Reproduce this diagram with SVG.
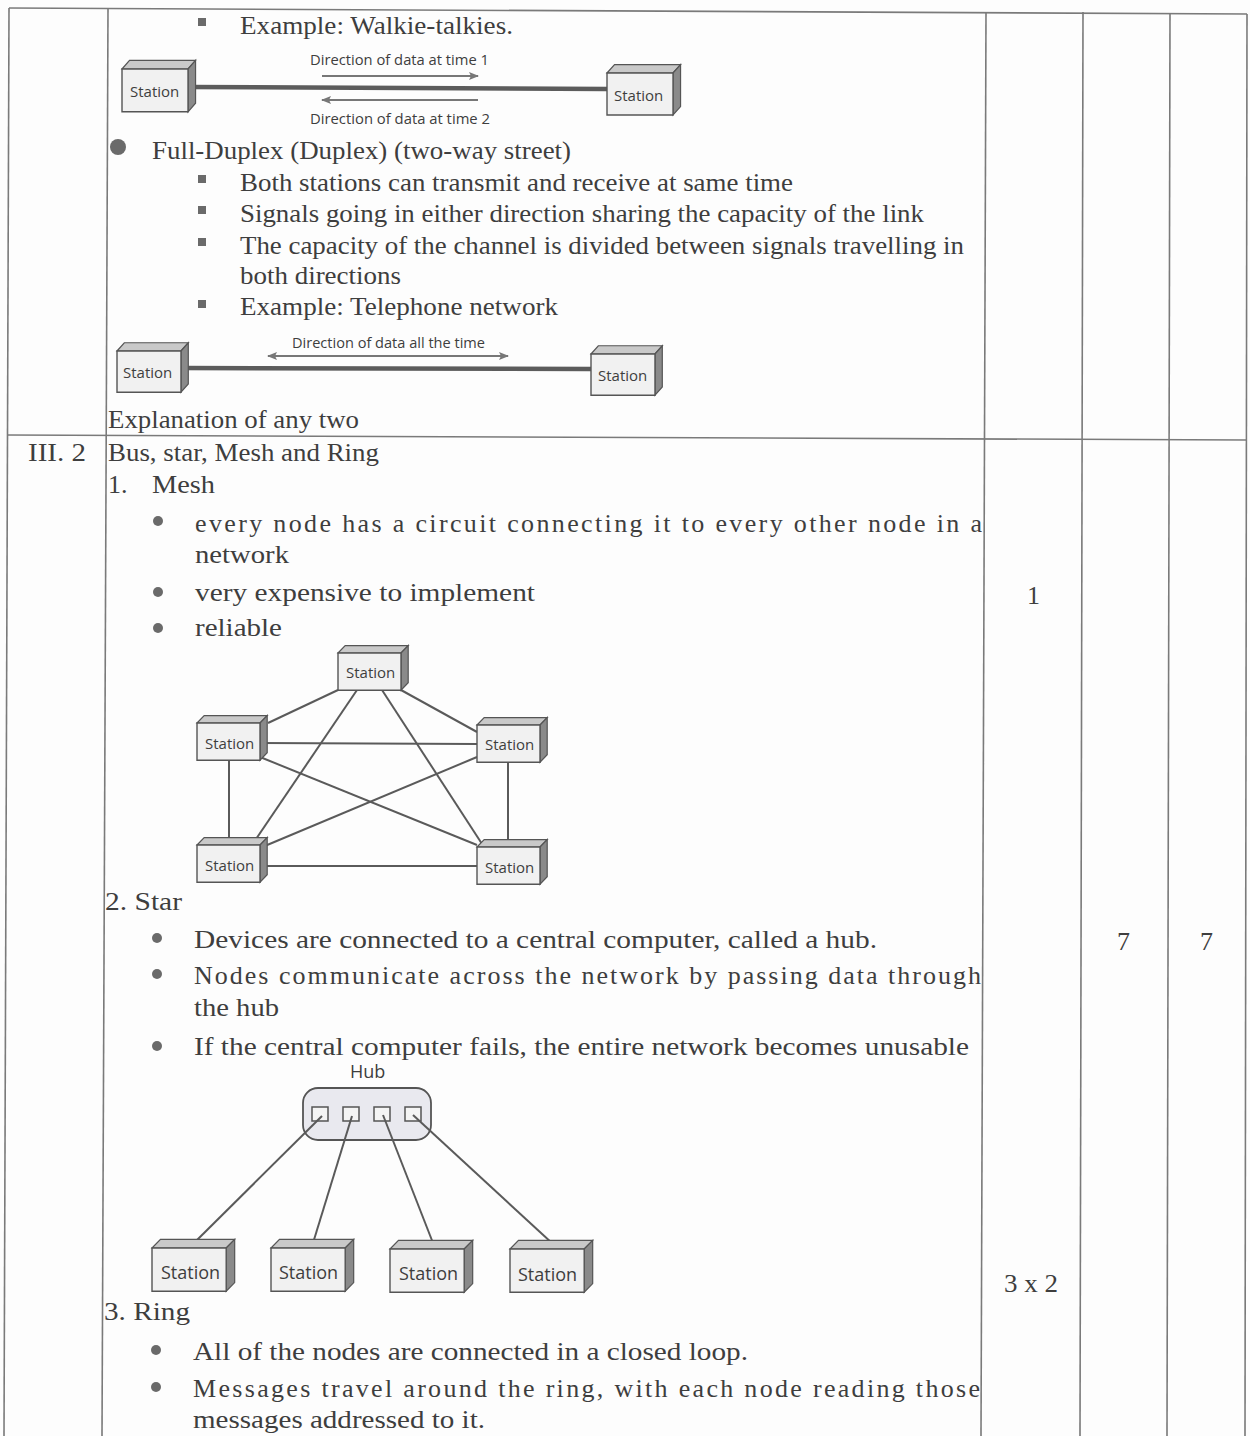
<svg xmlns="http://www.w3.org/2000/svg" xmlns:xlink="http://www.w3.org/1999/xlink" width="1250" height="1436" viewBox="0 0 1250 1436">
<style>
.t{font-family:"Liberation Serif","Times New Roman",serif;font-size:26px;fill:#3e3e3e}
.s{font-family:"Open Sans","Noto Sans","Liberation Sans",sans-serif;font-size:15px;fill:#3e3e3e}
.sl{font-family:"Open Sans","Noto Sans","Liberation Sans",sans-serif;font-size:18px;fill:#3e3e3e}
.grid{stroke:#7a7a7a;stroke-width:1.6;fill:none}
.link{stroke:#5a5a5a;stroke-width:2;fill:none}
.thick{stroke:#5c5c5c;stroke-width:4.5;fill:none}
.arr{stroke:#777;stroke-width:2;fill:none}
.sq{fill:#6a6a6a}
.dot{fill:#6a6a6a}
</style>
<defs>
<g id="box">
<polygon points="0,0 8,-8 78,-8 70,0" fill="#c9c9c9" stroke="#555" stroke-width="1.2" vector-effect="non-scaling-stroke"/>
<polygon points="70,0 78,-8 78,32 70,40" fill="#8a8a8a" stroke="#555" stroke-width="1.2" vector-effect="non-scaling-stroke"/>
<rect x="0" y="0" width="70" height="40" fill="#f1f1f1" stroke="#555" stroke-width="1.4" vector-effect="non-scaling-stroke"/>
</g>
<marker id="ah" markerWidth="10" markerHeight="8" refX="9" refY="4" orient="auto-start-reverse" markerUnits="userSpaceOnUse">
<path d="M0,0 L10,4 L0,8 L2,4 Z" fill="#777"/>
</marker>
</defs>
<rect x="0" y="0" width="1250" height="1436" fill="#fdfdfd"/>

<g id="table">
<line class="grid" x1="9" y1="8" x2="1247" y2="14"/>
<line class="grid" x1="9" y1="8" x2="4" y2="1436"/>
<line class="grid" x1="108" y1="9" x2="102" y2="1436"/>
<line class="grid" x1="986" y1="12" x2="981" y2="1436"/>
<line class="grid" x1="1083" y1="12" x2="1080" y2="1436"/>
<line class="grid" x1="1170" y1="13" x2="1167" y2="1436"/>
<line class="grid" x1="1247" y1="14" x2="1245" y2="1436"/>
<line class="grid" x1="7" y1="435" x2="1246" y2="440"/>
</g>

<g id="text-top">
<rect class="sq" x="198" y="18" width="8" height="8"/>
<text class="t" x="240" y="34" textLength="273" lengthAdjust="spacingAndGlyphs">Example: Walkie-talkies.</text>
<circle class="dot" cx="118" cy="147" r="8"/>
<text class="t" x="152" y="159" textLength="419" lengthAdjust="spacingAndGlyphs">Full-Duplex (Duplex) (two-way street)</text>
<rect class="sq" x="198" y="175" width="8" height="8"/>
<text class="t" x="240" y="191" textLength="553" lengthAdjust="spacingAndGlyphs">Both stations can transmit and receive at same time</text>
<rect class="sq" x="198" y="206" width="8" height="8"/>
<text class="t" x="240" y="222" textLength="684" lengthAdjust="spacingAndGlyphs">Signals going in either direction sharing the capacity of the link</text>
<rect class="sq" x="198" y="238" width="8" height="8"/>
<text class="t" x="240" y="254" textLength="724" lengthAdjust="spacingAndGlyphs">The capacity of the channel is divided between signals travelling in</text>
<text class="t" x="240" y="284" textLength="161" lengthAdjust="spacingAndGlyphs">both directions</text>
<rect class="sq" x="198" y="300" width="8" height="8"/>
<text class="t" x="240" y="315" textLength="318" lengthAdjust="spacingAndGlyphs">Example: Telephone network</text>
<text class="t" x="108" y="428" textLength="251" lengthAdjust="spacingAndGlyphs">Explanation of any two</text>
</g>

<g id="text-mesh">
<text class="t" x="28" y="461" textLength="58" lengthAdjust="spacingAndGlyphs">III. 2</text>
<text class="t" x="108" y="461" textLength="271" lengthAdjust="spacingAndGlyphs">Bus, star, Mesh and Ring</text>
<text class="t" x="108" y="493">1.</text>
<text class="t" x="152" y="493" textLength="63" lengthAdjust="spacingAndGlyphs">Mesh</text>
<circle class="dot" cx="158" cy="521" r="5"/>
<text class="t" x="195" y="532" textLength="787" lengthAdjust="spacing">every node has a circuit connecting it to every other node in a</text>
<text class="t" x="195" y="563" textLength="94" lengthAdjust="spacingAndGlyphs">network</text>
<circle class="dot" cx="158" cy="592" r="5"/>
<text class="t" x="195" y="601" textLength="340" lengthAdjust="spacingAndGlyphs">very expensive to implement</text>
<circle class="dot" cx="158" cy="628" r="5"/>
<text class="t" x="195" y="636" textLength="87" lengthAdjust="spacingAndGlyphs">reliable</text>
<text class="t" x="1027" y="604">1</text>
</g>

<g id="text-star">
<text class="t" x="105" y="910" textLength="77" lengthAdjust="spacingAndGlyphs">2. Star</text>
<circle class="dot" cx="157" cy="938" r="5"/>
<text class="t" x="194" y="948" textLength="683" lengthAdjust="spacingAndGlyphs">Devices are connected to a central computer, called a hub.</text>
<circle class="dot" cx="157" cy="974" r="5"/>
<text class="t" x="194" y="984" textLength="787" lengthAdjust="spacing">Nodes communicate across the network by passing data through</text>
<text class="t" x="194" y="1016" textLength="85" lengthAdjust="spacingAndGlyphs">the hub</text>
<circle class="dot" cx="157" cy="1046" r="5"/>
<text class="t" x="194" y="1055" textLength="775" lengthAdjust="spacingAndGlyphs">If the central computer fails, the entire network becomes unusable</text>
<text class="t" x="1117" y="950">7</text>
<text class="t" x="1200" y="950">7</text>
<text class="t" x="1004" y="1292" textLength="54" lengthAdjust="spacingAndGlyphs">3 x 2</text>
</g>

<g id="text-ring">
<text class="t" x="104" y="1320" textLength="86" lengthAdjust="spacingAndGlyphs">3. Ring</text>
<circle class="dot" cx="156" cy="1350" r="5"/>
<text class="t" x="193" y="1360" textLength="555" lengthAdjust="spacingAndGlyphs">All of the nodes are connected in a closed loop.</text>
<circle class="dot" cx="156" cy="1387" r="5"/>
<text class="t" x="193" y="1397" textLength="787" lengthAdjust="spacing">Messages travel around the ring, with each node reading those</text>
<text class="t" x="193" y="1428" textLength="292" lengthAdjust="spacingAndGlyphs">messages addressed to it.</text>
</g>

<g id="hub">
<text class="sl" x="350" y="1078" font-size="17">Hub</text>
<rect x="303" y="1088" width="128" height="52" rx="15" fill="#e9e9ef" stroke="#555" stroke-width="1.8"/>
<rect x="312" y="1107" width="16" height="14" fill="#f4f4f4" stroke="#555" stroke-width="1.5"/>
<rect x="343" y="1107" width="16" height="14" fill="#f4f4f4" stroke="#555" stroke-width="1.5"/>
<rect x="374" y="1107" width="16" height="14" fill="#f4f4f4" stroke="#555" stroke-width="1.5"/>
<rect x="405" y="1107" width="16" height="14" fill="#f4f4f4" stroke="#555" stroke-width="1.5"/>
</g>

<g id="connectors">
<line class="thick" x1="189" y1="87" x2="607" y2="89"/>
<line class="arr" x1="322" y1="76" x2="478" y2="76" marker-end="url(#ah)"/>
<line class="arr" x1="478" y1="100" x2="322" y2="100" marker-end="url(#ah)"/>
<line class="thick" x1="182" y1="368" x2="591" y2="369"/>
<line class="arr" x1="268" y1="356" x2="508" y2="356" marker-start="url(#ah)" marker-end="url(#ah)"/>
<line class="link" x1="338" y1="690" x2="268" y2="723"/>
<line class="link" x1="357" y1="690" x2="252" y2="845"/>
<line class="link" x1="382" y1="690" x2="484" y2="847"/>
<line class="link" x1="401" y1="690" x2="477" y2="732"/>
<line class="link" x1="260" y1="743" x2="477" y2="744"/>
<line class="link" x1="260" y1="757" x2="477" y2="845"/>
<line class="link" x1="229" y1="760" x2="229" y2="845"/>
<line class="link" x1="477" y1="757" x2="260" y2="848"/>
<line class="link" x1="508" y1="762" x2="508" y2="847"/>
<line class="link" x1="260" y1="866" x2="477" y2="866"/>
<line class="link" x1="322" y1="1116" x2="195" y2="1242"/>
<line class="link" x1="352" y1="1116" x2="313" y2="1243"/>
<line class="link" x1="383" y1="1115" x2="433" y2="1243"/>
<line class="link" x1="413" y1="1115" x2="553" y2="1244"/>
</g>

<g id="labels">
<text class="s" x="310" y="65" textLength="179" lengthAdjust="spacingAndGlyphs">Direction of data at time 1</text>
<text class="s" x="310" y="124" textLength="180" lengthAdjust="spacingAndGlyphs">Direction of data at time 2</text>
<text class="s" x="292" y="348" textLength="193" lengthAdjust="spacingAndGlyphs">Direction of data all the time</text>
</g>

<g id="station-hd1"><use xlink:href="#box" transform="translate(122,69) scale(0.943,1.07)"/><text class="s" x="130" y="97">Station</text></g>
<g id="station-hd2"><use xlink:href="#box" transform="translate(607,73) scale(0.943,1.05)"/><text class="s" x="614" y="101">Station</text></g>
<g id="station-fd1"><use xlink:href="#box" transform="translate(117,351) scale(0.914,1.03)"/><text class="s" x="123" y="378">Station</text></g>
<g id="station-fd2"><use xlink:href="#box" transform="translate(591,354) scale(0.914,1.03)"/><text class="s" x="598" y="381">Station</text></g>

<g id="mesh-top"><use xlink:href="#box" transform="translate(338,653) scale(0.9,0.93)"/><text class="s" x="346" y="678">Station</text></g>
<g id="mesh-left"><use xlink:href="#box" transform="translate(197,723) scale(0.9,0.93)"/><text class="s" x="205" y="749">Station</text></g>
<g id="mesh-right"><use xlink:href="#box" transform="translate(477,725) scale(0.9,0.93)"/><text class="s" x="485" y="750">Station</text></g>
<g id="mesh-bl"><use xlink:href="#box" transform="translate(197,845) scale(0.9,0.93)"/><text class="s" x="205" y="871">Station</text></g>
<g id="mesh-br"><use xlink:href="#box" transform="translate(477,847) scale(0.9,0.93)"/><text class="s" x="485" y="873">Station</text></g>

<g id="star-1"><use xlink:href="#box" transform="translate(152,1248) scale(1.06,1.08)"/><text class="sl" x="161" y="1279">Station</text></g>
<g id="star-2"><use xlink:href="#box" transform="translate(271,1248) scale(1.06,1.08)"/><text class="sl" x="279" y="1279">Station</text></g>
<g id="star-3"><use xlink:href="#box" transform="translate(390,1249) scale(1.06,1.08)"/><text class="sl" x="399" y="1280">Station</text></g>
<g id="star-4"><use xlink:href="#box" transform="translate(510,1249) scale(1.06,1.08)"/><text class="sl" x="518" y="1281">Station</text></g>
</svg>
